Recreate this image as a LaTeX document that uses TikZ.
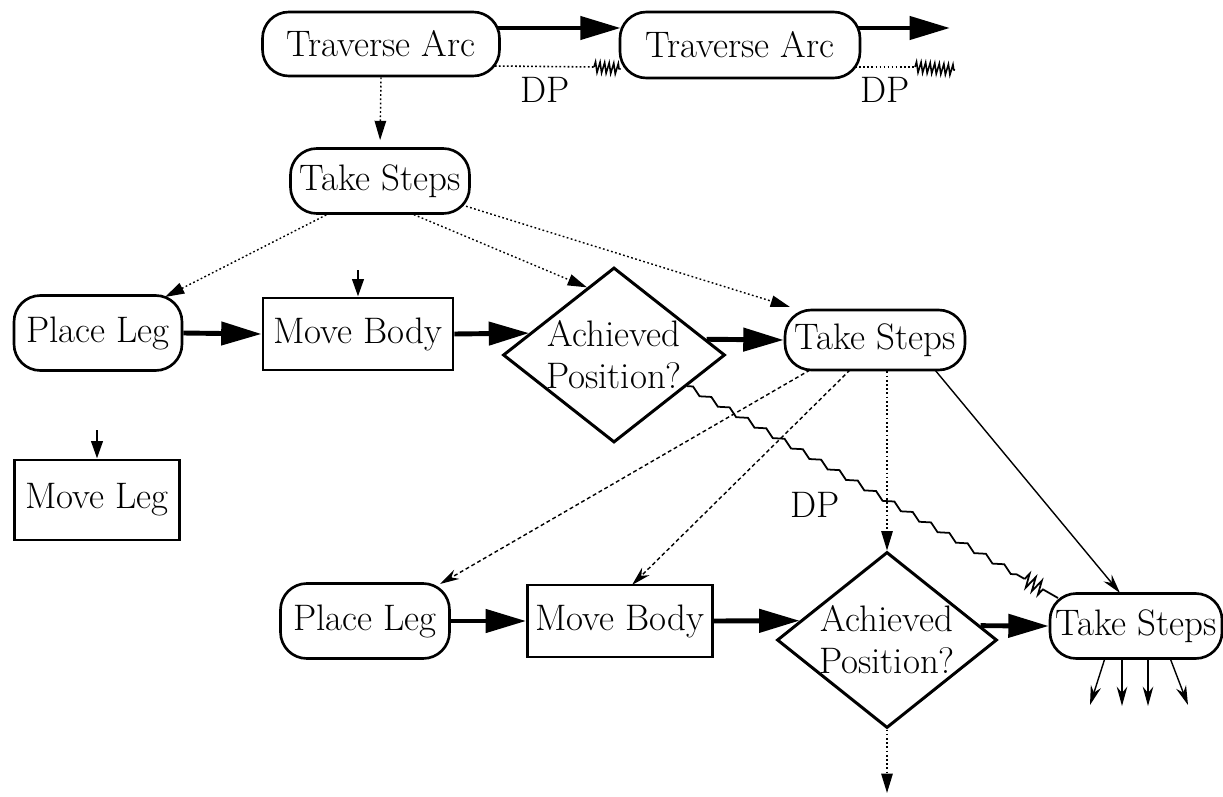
\documentclass[tikz,border=0pt]{standalone}
\usetikzlibrary{arrows.meta,shapes.geometric,calc,decorations.pathmorphing}

\begin{document}
\begin{tikzpicture}[x=0.02cm,y=-0.02cm,
  every node/.style={font=\rmfamily\fontsize{21}{24}\selectfont, inner sep=0pt},
  sz/.style 2 args={minimum width=#1*0.02cm, minimum height=#2*0.02cm},
  pill/.style={draw, line width=1.5pt, rounded corners=15pt},
  box/.style={draw, rectangle, line width=1.6pt},
  dia/.style={draw, diamond, line width=1.7pt},
  heavy/.style={line width=2.8pt, -{Triangle[length=23pt,width=13pt]}},
  thin/.style={line width=0.8pt, -{Stealth[length=11pt,width=6pt]}},
  dotarrow/.style={line width=0.8pt, dash pattern=on 1pt off 1.4pt,
    -{Triangle[length=11pt,width=6.5pt]}},
  dasharrow/.style={thin, dash pattern=on 2.2pt off 1.6pt},
  stub/.style={line width=1.6pt, -{Triangle[length=10pt,width=6.5pt]}},
  dots/.style={line width=0.9pt, dash pattern=on 1pt off 1.3pt},
  squig/.style={line width=0.9pt, decorate,
    decoration={zigzag, segment length=2.6pt, amplitude=3pt}},
  dpline/.style={line width=1pt, decorate,
    decoration={zigzag, segment length=12pt, amplitude=1.5pt}},
  hash/.style={line width=1pt, decorate,
    decoration={zigzag, segment length=4pt, amplitude=4pt}},
]
\useasboundingbox (0,0) rectangle (1223,797);

% ---- nodes ----
\node[pill, sz={237}{64}] (TA1) at (381,44) {Traverse Arc};
\node[pill, sz={240}{66}] (TA2) at (740,45) {Traverse Arc};
\node[pill, sz={179}{65}] (TS1) at (380,181) {Take Steps};
\node[pill, sz={168}{75}] (PL1) at (98,333) {Place Leg};
\node[box,  sz={190}{72}] (MB1) at (358,334) {Move Body};
\node[dia,  sz={222}{175}, label={[align=center]center:Achieved\\Position?}] (D1) at (614,355) {};
\node[pill, sz={180}{60}] (TS2) at (875,340) {Take Steps};
\node[box,  sz={165}{80}] (ML) at (97,500) {Move Leg};
\node[pill, sz={169}{75}] (PL2) at (365,621) {Place Leg};
\node[box,  sz={185}{72}] (MB2) at (620,621) {Move Body};
\node[dia,  sz={220}{176}, label={[align=center]center:Achieved\\Position?}] (D2) at (887,640) {};
\node[pill, sz={172}{65}] (TS3) at (1136,626) {Take Steps};

% ---- free ends ----
\coordinate (out1) at (950,28);
\coordinate (q1) at (594,67);
\coordinate (q2) at (915,67);
\coordinate (q3) at (955,70);
\coordinate (in1) at (358,270);
\coordinate (in2) at (97,430);
\coordinate (out2) at (887,793);
\coordinate (f1) at (1090,705);
\coordinate (f2) at (1122,706);
\coordinate (f3) at (1148,706);
\coordinate (f4) at (1188,705);

% ---- top row ----
\draw[heavy] ($(TA1.east)+(-3,-16)$) -- ($(TA2.west)+(2,-17)$);
\draw[heavy] ($(TA2.east)+(-3,-17)$) -- (out1);
\draw[dots] ($(TA1.east)+(-6,22)$) -- (q1);
\draw[squig] (q1) -- ($(TA2.west)+(2,24)$);
\draw[dots] ($(TA2.east)+(-6,22)$) -- (q2);
\draw[squig] (q2) -- (q3);
\node (dp1) at (545,90) {DP};
\node (dp2) at (885,90) {DP};
\draw[dotarrow, shorten >=4pt] (TA1.south) -- (TS1.north);

% ---- first expansion ----
\draw[dotarrow] ($(TS1.center)+(-50,32)$) -- ($(PL1.center)+(67,-36)$);
\draw[dotarrow] ($(TS1.center)+(30,32)$) -- ($(D1.west)!.76!(D1.north)$);
\draw[dotarrow] ($(TS1.center)+(82,24)$) -- ($(TS2.center)+(-85,-33)$);
\draw[stub] (in1) -- (MB1.north);
\draw[stub] (in2) -- (ML.north);
\draw[heavy] (PL1.east) -- (MB1.west);
\draw[heavy] (MB1.east) -- ($(D1.west)!.246!(D1.north)$);
\draw[heavy] ($(D1.east)!.177!(D1.north)$) -- (TS2.west);

% ---- second expansion ----
\draw[dasharrow] ($(TS2.center)+(-65,30)$) -- ($(PL2.center)+(75,-37)$);
\draw[dasharrow] ($(TS2.center)+(-25,30)$) -- ($(MB2.center)+(12,-36)$);
\draw[dotarrow] (TS2.south -| D2.north) -- (D2.north);
\draw[thin] ($(TS2.center)+(60,30)$) -- ($(TS3.center)+(-16,-33)$);

% deadline pass from the first decision to the last step
\coordinate (dpA) at ($(D1.east)!.35!(D1.south)$);
\coordinate (dpB) at ($(TS3.center)+(-78,-28)$);
\coordinate (dpC) at ($(dpA)!.91!(dpB)$);
\coordinate (dpD) at ($(dpA)!.96!(dpB)$);
\draw[dpline] (dpA) -- (dpC);
\draw[hash] (dpC) -- (dpD);
\draw[line width=1pt] (dpD) -- (dpB);
\node (dp3) at (815,505) {DP};

\draw[heavy] (PL2.east) -- (MB2.west);
\draw[heavy] (MB2.east) -- ($(D2.west)!.216!(D2.north)$);
\draw[heavy] ($(D2.east)!.16!(D2.north)$) -- (TS3.west);
\draw[dotarrow] (D2.south) -- (out2);

% fan-out below the last step
\draw[thin] ($(TS3.center)+(-31,32)$) -- (f1);
\draw[thin] ($(TS3.center)+(-14,32)$) -- (f2);
\draw[thin] ($(TS3.center)+(12,32)$) -- (f3);
\draw[thin] ($(TS3.center)+(34,32)$) -- (f4);
\end{tikzpicture}
\end{document}
